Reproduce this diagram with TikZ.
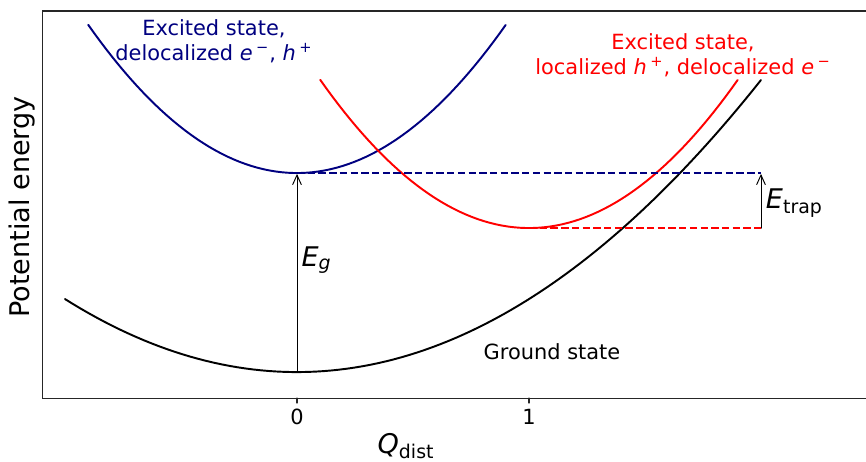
\documentclass[tikz,border=0pt]{standalone}
\usepackage{fontspec}
\setmainfont{DejaVu Sans}
\usepackage{tikz}
\usetikzlibrary{arrows.meta,calc,positioning}

\definecolor{blueexc}{RGB}{0,0,128}
\definecolor{redexc}{RGB}{255,0,0}
\newcommand{\lblfont}{\fontsize{11.9}{14.2}\selectfont}
\newcommand{\axfont}{\fontsize{15.4}{18}\selectfont}
\newcommand{\chg}[1]{\,\textsuperscript{#1}}

\begin{document}
\begin{tikzpicture}[x=4.64cm, y=0.02cm, >={Straight Barb[length=5.5pt,width=5pt]},
    line cap=round, font=\lblfont,
    curve/.style={line width=1.1pt},
    level/.style={line width=1.1pt, dash pattern=on 4.2pt off 1.9pt, line cap=butt},
    gap/.style={->, line width=0.55pt, shorten >=0.5pt}]
  \useasboundingbox (-1.2802,-63) rectangle (2.4526,398);
  % axes frame (right side lies off the picture)
  \draw[line width=0.6pt, black!85] (2.4526,387) -- (-1.099,387) -- (-1.099,0) -- (2.4526,0);
  \foreach \q in {0,1} {
    \draw[line width=0.6pt, black!85] (\q,0) -- (\q,-5);
    \node[anchor=north, inner sep=0pt] (tick\q) at (\q,-11) {\q};
  }
  % axis labels
  \node[font=\axfont, rotate=90] (ylab) at (-1.185,191) {Potential energy};
  \node[font=\axfont] (xlab) at (0.47,-48) {\textit{Q}\textsubscript{dist}};
  % ground state parabola
  \draw[curve, black] plot[domain=-1:2, samples=90] (\x, {26+73*\x*\x});
  % delocalized excited state
  \draw[curve, blueexc] plot[domain=-0.9:0.9, samples=70] (\x, {225+183*\x*\x});
  % localized hole, shifted minimum
  \draw[curve, redexc] plot[domain=0.1:1.9, samples=70] (\x, {170+183*(\x-1)*(\x-1)});
  % minima and level ends
  \coordinate (g0) at (0,26);
  \coordinate (b0) at (0,225);
  \coordinate (r0) at (1,170);
  \coordinate (bend) at (2,225);
  \coordinate (rend) at (2,170);
  \draw[level, blueexc] (b0) -- (bend);
  \draw[level, redexc] (r0) -- (rend);
  % gap arrows
  \draw[gap] (g0) -- (b0);
  \draw[gap] (rend) -- (bend);
  \node[anchor=west, inner sep=0pt, font=\axfont] (eg) at (0.018,138) {\textit{E}\textsubscript{\textit{g}}};
  \node[anchor=west, inner sep=0pt, font=\axfont] (etrap) at (2.02,195) {\textit{E}\textsubscript{trap}};
  % state labels
  \node[blueexc, align=center, inner sep=0pt] (deloc) at (-0.358,357)
    {Excited state,\\delocalized \textit{e}\chg{−}, \textit{h}\chg{+}};
  \node[redexc, align=center, inner sep=0pt] (loc) at (1.664,343)
    {Excited state,\\localized \textit{h}\chg{+}, delocalized \textit{e}\chg{−}};
  \node[inner sep=0pt] (ground) at (1.099,46) {Ground state};
\end{tikzpicture}
\end{document}
